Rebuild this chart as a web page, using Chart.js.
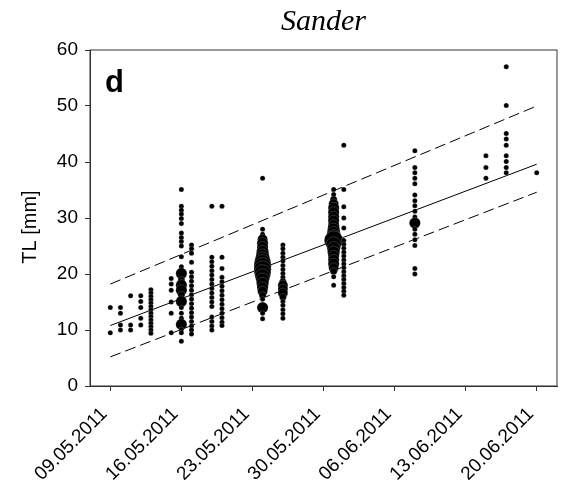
<!DOCTYPE html>
<html>
<head>
<meta charset="utf-8">
<script src="https://cdn.jsdelivr.net/npm/chart.js@4"></script>
<style>
  html, body { margin: 0; padding: 0; background: #fff; }
  #wrap { width: 561px; height: 492px; }
</style>
</head>
<body>
<div id="wrap"><canvas id="chart"></canvas></div>
<script>
// sampling days and total length (mm) of the fish caught on each day
const sampleDates = ['09.05.2011', '10.05.2011', '11.05.2011', '12.05.2011', '13.05.2011', '15.05.2011',
  '16.05.2011', '17.05.2011', '19.05.2011', '20.05.2011', '24.05.2011', '26.05.2011',
  '31.05.2011', '01.06.2011', '08.06.2011', '15.06.2011', '17.06.2011', '20.06.2011'];

const lengthsMm = [
  [14.0, 9.5],
  [14.0, 13.0, 10.9, 10.0],
  [16.1, 10.9, 10.0],
  [16.1, 15.1, 14.0, 12.1, 10.9],
  [17.2, 16.6, 16.0, 15.4, 14.8, 14.2, 13.6, 13.0, 12.4, 11.8, 11.2, 10.6, 10.0, 9.4],
  [19.2, 18.2, 17.1, 15.0, 13.0, 9.5],
  [35.1, 32.1, 31.4, 30.7, 29.9, 29.0, 27.3, 26.5, 25.8, 25.0, 23.1, 21.3, 20.1, 18.9, 18.0, 17.1, 16.3, 15.1, 14.0, 13.0, 12.1, 11.0, 10.1, 9.5, 8.0],
  [25.2, 24.5, 23.7, 22.1, 20.3, 19.5, 18.7, 17.9, 17.1, 16.3, 15.5, 14.7, 13.9, 13.1, 12.3, 11.5, 10.7, 10.0, 9.3],
  [32.1, 23.0, 22.2, 21.4, 20.6, 19.8, 19.0, 18.2, 17.4, 16.6, 15.8, 15.0, 14.2, 12.3, 11.5, 10.7, 10.0],
  [32.1, 23.0, 21.0, 19.4, 18.6, 17.8, 17.0, 16.2, 15.4, 14.6, 13.8, 13.0, 12.2, 11.4, 10.8],
  [37.1, 28.0, 27.1, 26.2, 25.5, 24.8, 24.0, 23.3, 22.6, 22.0, 21.4, 20.8, 20.2, 19.6, 19.0, 18.3, 17.6, 16.9, 16.2, 15.5, 14.0, 13.0, 12.0],
  [25.2, 24.5, 23.7, 23.0, 22.3, 21.5, 20.8, 20.1, 19.4, 18.6, 18.0, 17.3, 16.6, 15.9, 15.1, 14.4, 13.6, 12.9, 12.1],
  [35.1, 34.2, 33.3, 32.5, 31.8, 31.0, 30.2, 29.5, 28.7, 28.0, 27.3, 26.6, 26.0, 25.3, 24.6, 23.9, 23.2, 22.5, 21.8, 21.1, 20.5, 19.5, 18.0],
  [43.0, 35.1, 32.0, 30.0, 28.2, 26.0, 25.3, 24.6, 23.9, 23.2, 22.5, 21.8, 21.1, 20.4, 19.7, 19.0, 18.3, 17.6, 16.9, 16.2],
  [42.0, 39.0, 38.1, 37.1, 36.1, 34.1, 33.1, 32.2, 31.2, 30.2, 29.1, 28.0, 27.1, 26.1, 25.1, 21.0, 20.0],
  [41.1, 39.0, 37.1],
  [57.0, 50.1, 45.1, 44.1, 43.0, 41.1, 40.1, 39.0, 38.1],
  [38.1]
];

// number of fish with the same length (bigger dot = more fish)
const fishCounts = [
  [1, 1],
  [1, 1, 1, 1],
  [1, 1, 1],
  [1, 1, 1, 1, 1],
  [1, 1, 1, 1, 1, 1, 1, 1, 1, 1, 1, 1, 1, 1],
  [1, 1, 1, 1, 1, 1],
  [1, 1, 1, 1, 1, 1, 1, 1, 1, 1, 1, 1, 5, 2, 5, 5, 2, 5, 1, 1, 1, 5, 1, 1, 1],
  [1, 1, 1, 1, 1, 1, 1, 1, 1, 1, 1, 1, 1, 1, 1, 1, 1, 1, 1],
  [1, 1, 1, 1, 1, 1, 1, 1, 1, 1, 1, 1, 1, 1, 1, 1, 1],
  [1, 1, 1, 1, 1, 1, 1, 1, 1, 1, 1, 1, 1, 1, 1],
  [1, 1, 1, 4, 5, 5, 6, 7, 9, 11, 12, 12, 11, 9, 7, 6, 5, 4, 2, 1, 5, 1, 1],
  [1, 1, 1, 1, 1, 1, 1, 1, 1, 2, 4, 4, 4, 2, 1, 1, 1, 1, 1],
  [1, 1, 2, 4, 5, 5, 5, 5, 5, 6, 7, 9, 14, 9, 7, 6, 5, 5, 5, 4, 2, 1, 1],
  [1, 1, 1, 1, 1, 1, 1, 1, 1, 1, 1, 1, 1, 1, 1, 1, 1, 1, 1, 1],
  [1, 1, 1, 1, 1, 1, 1, 1, 1, 1, 5, 1, 1, 1, 1, 1, 1],
  [1, 1, 1],
  [1, 1, 1, 1, 1, 1, 1, 1, 1],
  [1]
];

const tickDates = ['09.05.2011', '16.05.2011', '23.05.2011', '30.05.2011', '06.06.2011', '13.06.2011', '20.06.2011'];

// regression line and prediction band, at first and last day
const fitDates = ['09.05.2011', '20.06.2011'];
const fitLine = [10.8, 39.6];
const upperBand = [18.2, 50.0];
const lowerBand = [5.2, 34.6];

function dayOf(s) {
  const [d, m, y] = s.split('.').map(Number);
  return (Date.UTC(y, m - 1, d) - Date.UTC(2011, 4, 9)) / 86400000;
}

const points = [];
sampleDates.forEach((date, i) => {
  lengthsMm[i].forEach((len, j) => {
    points.push({ x: dayOf(date), y: len, r: 2.5 * Math.sqrt(fishCounts[i][j]) });
  });
});

function lineData(vals) {
  return fitDates.map((d, i) => ({ x: dayOf(d), y: vals[i] }));
}

// box round the plot, panel letter and y axis title
const frame = {
  id: 'frame',
  afterDraw(chart) {
    const { ctx, chartArea: a } = chart;
    ctx.save();
    ctx.strokeStyle = '#333';
    ctx.lineWidth = 1;
    ctx.strokeRect(a.left, a.top, a.right - a.left, a.bottom - a.top);
    ctx.fillStyle = '#000';
    ctx.font = 'bold 31px "Liberation Sans"';
    ctx.textBaseline = 'alphabetic';
    ctx.fillText('d', a.left + 15, a.top + 42);

    ctx.translate(30, (a.top + a.bottom) / 2 + 9);
    ctx.rotate(-Math.PI / 2);
    ctx.font = '20px "Liberation Sans"';
    ctx.textAlign = 'center';
    ctx.textBaseline = 'middle';
    ctx.fillText('TL [mm]', 0, 0);
    ctx.restore();
  }
};

const lineStyle = { type: 'line', borderColor: '#000', borderWidth: 1, pointRadius: 0, fill: false, order: 2 };

new Chart(document.getElementById('chart'), {
  type: 'bubble',
  data: {
    datasets: [
      { ...lineStyle, data: lineData(fitLine) },
      { ...lineStyle, data: lineData(upperBand), borderDash: [11, 5] },
      { ...lineStyle, data: lineData(lowerBand), borderDash: [11, 5] },
      {
        data: points,
        backgroundColor: '#000',
        borderColor: 'rgba(255,255,255,0.3)',
        borderWidth: 0.6,
        order: 1
      }
    ]
  },
  options: {
    responsive: true,
    maintainAspectRatio: false,
    animation: false,
    layout: { autoPadding: false, padding: { left: 0, right: 4, top: 0, bottom: 0 } },
    plugins: {
      legend: { display: false },
      tooltip: { enabled: false },
      title: {
        display: true,
        text: 'Sander',
        fullSize: false,
        color: '#000',
        font: { family: '"Liberation Serif"', size: 30, style: 'italic', weight: 'normal' },
        padding: { top: 4, bottom: 10 }
      }
    },
    scales: {
      x: {
        type: 'linear',
        min: -2,
        max: 44,
        afterBuildTicks: s => { s.ticks = tickDates.map(t => ({ value: dayOf(t) })); },
        afterFit: s => { s.height = 106; s.paddingLeft = 0; s.paddingRight = 0; },
        ticks: {
          autoSkip: false,
          maxRotation: 45,
          minRotation: 45,
          color: '#000',
          padding: 12,
          labelOffset: -6,
          font: { family: '"Liberation Sans"', size: 19 },
          callback: v => tickDates.find(t => dayOf(t) === v) || ''
        },
        grid: { drawOnChartArea: false, drawTicks: true, tickLength: 5, color: '#333' },
        border: { color: '#333' }
      },
      y: {
        min: 0,
        max: 60,
        afterFit: s => { s.width = 90; s.paddingTop = 0; s.paddingBottom = 0; },
        ticks: {
          stepSize: 10,
          color: '#000',
          padding: 7,
          font: { family: '"Liberation Sans"', size: 19 }
        },
        grid: { drawOnChartArea: false, drawTicks: true, tickLength: 5, color: '#333' },
        border: { color: '#333' }
      }
    }
  },
  plugins: [frame]
});
</script>
</body>
</html>
